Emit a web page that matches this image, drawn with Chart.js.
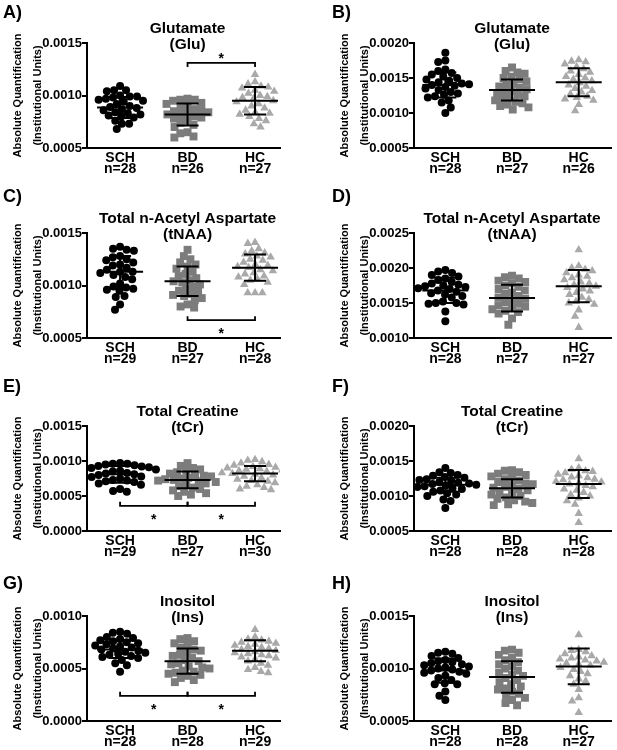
<!DOCTYPE html>
<html>
<head>
<meta charset="utf-8">
<script src="https://cdn.jsdelivr.net/npm/chart.js@4.4.1/dist/chart.umd.min.js"></script>
<style>
  html, body { margin: 0; padding: 0; background: #fff; }
  #fig { position: relative; width: 617px; height: 750px; overflow: hidden; font-family: "Liberation Sans", Arial, sans-serif; }
  .panel { position: absolute; }
  .letter { position: absolute; font-weight: bold; font-size: 18px; line-height: 18px; color: #000; }
</style>
</head>
<body>
<div id="fig"></div>
<script>
"use strict";

const groups = ['SCH', 'BD', 'HC'];

// A) Glutamate
const gluA_n = [28, 26, 27];
const gluA_SCH = [0.00109, 0.00105, 0.00105, 0.00104, 0.00100, 0.00099, 0.00099, 0.00098, 0.00097, 0.00096, 0.00095, 0.00094, 0.00092, 0.00090, 0.00089, 0.00088, 0.00087, 0.00086, 0.00084, 0.00083, 0.00082, 0.00081, 0.00080, 0.00079, 0.00076, 0.00073, 0.00073, 0.00068];
const gluA_BD = [0.00097, 0.00096, 0.00096, 0.00095, 0.00093, 0.00092, 0.00090, 0.00088, 0.00087, 0.00086, 0.00085, 0.00084, 0.00083, 0.00082, 0.00081, 0.00080, 0.00079, 0.00078, 0.00076, 0.00074, 0.00072, 0.00070, 0.00065, 0.00064, 0.00061, 0.00060];
const gluA_HC = [0.00120, 0.00113, 0.00111, 0.00109, 0.00108, 0.00107, 0.00105, 0.00104, 0.00102, 0.00100, 0.00099, 0.00098, 0.00097, 0.00095, 0.00094, 0.00092, 0.00090, 0.00088, 0.00086, 0.00084, 0.00083, 0.00082, 0.00080, 0.00078, 0.00076, 0.00073, 0.00070];
const gluA_mean = [0.000885, 0.00082, 0.00095];
const gluA_sd = [0.0001, 0.000105, 0.00013];
const gluA_sig = [{ from: 2, to: 3, y: 0.00131, dir: -1 }];

// B) Glutamate
const gluB_n = [28, 27, 26];
const gluB_SCH = [0.00186, 0.00175, 0.00173, 0.00162, 0.00160, 0.00157, 0.00155, 0.00152, 0.00150, 0.00148, 0.00146, 0.00144, 0.00142, 0.00141, 0.00140, 0.00139, 0.00137, 0.00135, 0.00133, 0.00130, 0.00128, 0.00126, 0.00124, 0.00122, 0.00118, 0.00115, 0.00108, 0.00100];
const gluB_BD = [0.00165, 0.00160, 0.00158, 0.00156, 0.00152, 0.00150, 0.00148, 0.00145, 0.00142, 0.00140, 0.00138, 0.00136, 0.00134, 0.00132, 0.00130, 0.00128, 0.00126, 0.00124, 0.00122, 0.00120, 0.00118, 0.00116, 0.00114, 0.00112, 0.00110, 0.00108, 0.00105];
const gluB_HC = [0.00176, 0.00174, 0.00173, 0.00170, 0.00166, 0.00163, 0.00160, 0.00158, 0.00155, 0.00152, 0.00150, 0.00148, 0.00146, 0.00143, 0.00140, 0.00138, 0.00135, 0.00132, 0.00130, 0.00127, 0.00124, 0.00122, 0.00120, 0.00118, 0.00112, 0.00103];
const gluB_mean = [0.00140, 0.00133, 0.00144];
const gluB_sd = [0.00018, 0.00015, 0.00020];

// C) tNAA
const naaC_n = [29, 27, 28];
const naaC_SCH = [0.00137, 0.00135, 0.00134, 0.00133, 0.00128, 0.00127, 0.00125, 0.00124, 0.00122, 0.00120, 0.00119, 0.00117, 0.00115, 0.00113, 0.00113, 0.00112, 0.00110, 0.00108, 0.00106, 0.00102, 0.00099, 0.00098, 0.00097, 0.00096, 0.00095, 0.00090, 0.00089, 0.00082, 0.00077];
const naaC_BD = [0.00134, 0.00128, 0.00125, 0.00122, 0.00120, 0.00118, 0.00116, 0.00113, 0.00111, 0.00109, 0.00107, 0.00105, 0.00104, 0.00103, 0.00101, 0.00099, 0.00097, 0.00095, 0.00094, 0.00092, 0.00091, 0.00090, 0.00088, 0.00086, 0.00082, 0.00080, 0.00079];
const naaC_HC = [0.00141, 0.00140, 0.00135, 0.00133, 0.00131, 0.00130, 0.00128, 0.00127, 0.00125, 0.00124, 0.00122, 0.00120, 0.00119, 0.00118, 0.00117, 0.00115, 0.00114, 0.00112, 0.00111, 0.00109, 0.00108, 0.00106, 0.00105, 0.00103, 0.00101, 0.00093, 0.00093, 0.00093];
const naaC_mean = [0.00113, 0.00104, 0.00117];
const naaC_sd = [0.00015, 0.00014, 0.000125];
const naaC_sig = [{ from: 2, to: 3, y: 0.00067, dir: 1 }];

// D) tNAA
const naaD_n = [28, 27, 27];
const naaD_SCH = [0.00197, 0.00195, 0.00193, 0.00190, 0.00188, 0.00185, 0.00183, 0.00180, 0.00178, 0.00176, 0.00175, 0.00174, 0.00173, 0.00171, 0.00170, 0.00168, 0.00166, 0.00164, 0.00162, 0.00160, 0.00158, 0.00152, 0.00150, 0.00150, 0.00149, 0.00148, 0.00138, 0.00124];
const naaD_BD = [0.00189, 0.00187, 0.00185, 0.00182, 0.00180, 0.00178, 0.00175, 0.00173, 0.00170, 0.00168, 0.00165, 0.00163, 0.00160, 0.00158, 0.00156, 0.00154, 0.00151, 0.00149, 0.00147, 0.00145, 0.00143, 0.00141, 0.00139, 0.00137, 0.00135, 0.00128, 0.00119];
const naaD_HC = [0.00226, 0.00203, 0.00200, 0.00198, 0.00196, 0.00193, 0.00190, 0.00188, 0.00186, 0.00183, 0.00180, 0.00178, 0.00176, 0.00174, 0.00172, 0.00170, 0.00167, 0.00165, 0.00162, 0.00158, 0.00155, 0.00152, 0.00150, 0.00148, 0.00140, 0.00131, 0.00115];
const naaD_mean = [0.00168, 0.00157, 0.00174];
const naaD_sd = [0.00018, 0.00019, 0.00023];

// E) tCr
const crE_n = [29, 27, 30];
const crE_SCH = [0.00097, 0.00096, 0.00096, 0.00095, 0.00094, 0.00093, 0.00092, 0.00091, 0.00090, 0.00089, 0.00088, 0.00086, 0.00085, 0.00083, 0.00082, 0.00081, 0.00080, 0.00078, 0.00077, 0.00075, 0.00073, 0.00072, 0.00071, 0.00070, 0.00068, 0.00066, 0.00060, 0.00057, 0.00056];
const crE_BD = [0.00097, 0.00093, 0.00090, 0.00088, 0.00086, 0.00084, 0.00082, 0.00080, 0.00079, 0.00078, 0.00076, 0.00075, 0.00074, 0.00073, 0.00072, 0.00071, 0.00070, 0.00068, 0.00066, 0.00064, 0.00062, 0.00060, 0.00058, 0.00056, 0.00054, 0.00052, 0.00050];
const crE_HC = [0.00102, 0.00101, 0.00099, 0.00097, 0.00095, 0.00094, 0.00092, 0.00091, 0.00090, 0.00089, 0.00088, 0.00087, 0.00086, 0.00085, 0.00083, 0.00082, 0.00081, 0.00080, 0.00079, 0.00078, 0.00076, 0.00074, 0.00072, 0.00071, 0.00069, 0.00066, 0.00064, 0.00062, 0.00060, 0.00059];
const crE_mean = [0.00081, 0.00073, 0.00082];
const crE_sd = [0.00012, 0.00012, 0.00011];
const crE_sig = [{ from: 1, to: 2, y: 0.00036, dir: 1 }, { from: 2, to: 3, y: 0.00036, dir: 1 }];

// F) tCr
const crF_n = [28, 28, 28];
const crF_SCH = [0.00140, 0.00134, 0.00133, 0.00130, 0.00129, 0.00127, 0.00126, 0.00124, 0.00123, 0.00122, 0.00120, 0.00119, 0.00118, 0.00117, 0.00116, 0.00115, 0.00114, 0.00113, 0.00111, 0.00110, 0.00108, 0.00106, 0.00104, 0.00102, 0.00100, 0.00095, 0.00093, 0.00083];
const crF_BD = [0.00137, 0.00136, 0.00134, 0.00132, 0.00130, 0.00128, 0.00126, 0.00124, 0.00122, 0.00120, 0.00118, 0.00117, 0.00115, 0.00113, 0.00112, 0.00110, 0.00108, 0.00106, 0.00104, 0.00102, 0.00100, 0.00098, 0.00096, 0.00094, 0.00092, 0.00090, 0.00088, 0.00087];
const crF_HC = [0.00153, 0.00140, 0.00138, 0.00136, 0.00135, 0.00133, 0.00131, 0.00129, 0.00127, 0.00126, 0.00124, 0.00123, 0.00121, 0.00120, 0.00118, 0.00117, 0.00115, 0.00113, 0.00110, 0.00108, 0.00105, 0.00102, 0.00100, 0.00097, 0.00093, 0.00088, 0.00075, 0.00062];
const crF_mean = [0.00116, 0.00111, 0.00117];
const crF_sd = [0.0001, 0.00013, 0.0002];

// G) Ins
const insG_n = [28, 28, 29];
const insG_SCH = [0.00085, 0.00084, 0.00083, 0.00080, 0.00079, 0.00078, 0.00077, 0.00076, 0.00075, 0.00074, 0.00073, 0.00072, 0.00071, 0.00070, 0.00069, 0.00068, 0.00067, 0.00066, 0.00065, 0.00064, 0.00063, 0.00062, 0.00061, 0.00060, 0.00058, 0.00055, 0.00053, 0.00047];
const insG_BD = [0.00079, 0.00078, 0.00076, 0.00074, 0.00072, 0.00070, 0.00068, 0.00067, 0.00065, 0.00063, 0.00062, 0.00060, 0.00058, 0.00057, 0.00055, 0.00054, 0.00052, 0.00051, 0.00050, 0.00048, 0.00047, 0.00046, 0.00045, 0.00044, 0.00043, 0.00041, 0.00039, 0.00037];
const insG_HC = [0.00087, 0.00080, 0.00078, 0.00077, 0.00076, 0.00075, 0.00074, 0.00073, 0.00072, 0.00071, 0.00070, 0.00069, 0.00068, 0.00067, 0.00066, 0.00065, 0.00064, 0.00063, 0.00062, 0.00061, 0.00060, 0.00059, 0.00057, 0.00055, 0.00053, 0.00051, 0.00049, 0.00047, 0.00046];
const insG_mean = [0.00068, 0.00057, 0.00067];
const insG_sd = [0.00008, 0.00012, 0.0001];
const insG_sig = [{ from: 1, to: 2, y: 0.00024, dir: 1 }, { from: 2, to: 3, y: 0.00024, dir: 1 }];

// H) Ins
const insH_n = [28, 28, 27];
const insH_SCH = [0.00116, 0.00115, 0.00114, 0.00112, 0.00110, 0.00108, 0.00107, 0.00106, 0.00105, 0.00104, 0.00103, 0.00102, 0.00101, 0.00100, 0.00099, 0.00098, 0.00097, 0.00096, 0.00095, 0.00093, 0.00091, 0.00089, 0.00086, 0.00085, 0.00085, 0.00078, 0.00074, 0.00070];
const insH_BD = [0.00118, 0.00117, 0.00115, 0.00113, 0.00110, 0.00108, 0.00106, 0.00104, 0.00102, 0.00100, 0.00098, 0.00096, 0.00094, 0.00093, 0.00091, 0.00089, 0.00087, 0.00085, 0.00083, 0.00081, 0.00080, 0.00078, 0.00076, 0.00074, 0.00072, 0.00070, 0.00067, 0.00065];
const insH_HC = [0.00132, 0.00118, 0.00117, 0.00116, 0.00114, 0.00112, 0.00111, 0.00110, 0.00109, 0.00108, 0.00107, 0.00106, 0.00105, 0.00104, 0.00103, 0.00101, 0.00099, 0.00097, 0.00095, 0.00093, 0.00090, 0.00088, 0.00085, 0.00080, 0.00072, 0.00069, 0.00058];
const insH_mean = [0.00098, 0.00092, 0.00102];
const insH_sd = [0.000115, 0.00015, 0.00017];

const yTitle = ['Absolute Quantification', '(Institutional Units)'];

const panels = [
  { letter: 'A', col: 0, row: 0, title: ['Glutamate', '(Glu)'], yRange: [0.0005, 0.0015], n: gluA_n, values: [gluA_SCH, gluA_BD, gluA_HC], mean: gluA_mean, sd: gluA_sd, sig: gluA_sig },
  { letter: 'B', col: 1, row: 0, title: ['Glutamate', '(Glu)'], yRange: [0.0005, 0.0020], n: gluB_n, values: [gluB_SCH, gluB_BD, gluB_HC], mean: gluB_mean, sd: gluB_sd, sig: [] },
  { letter: 'C', col: 0, row: 1, title: ['Total n-Acetyl Aspartate', '(tNAA)'], yRange: [0.0005, 0.0015], n: naaC_n, values: [naaC_SCH, naaC_BD, naaC_HC], mean: naaC_mean, sd: naaC_sd, sig: naaC_sig },
  { letter: 'D', col: 1, row: 1, title: ['Total n-Acetyl Aspartate', '(tNAA)'], yRange: [0.0010, 0.0025], n: naaD_n, values: [naaD_SCH, naaD_BD, naaD_HC], mean: naaD_mean, sd: naaD_sd, sig: [] },
  { letter: 'E', col: 0, row: 2, title: ['Total Creatine', '(tCr)'], yRange: [0.0000, 0.0015], n: crE_n, values: [crE_SCH, crE_BD, crE_HC], mean: crE_mean, sd: crE_sd, sig: crE_sig },
  { letter: 'F', col: 1, row: 2, title: ['Total Creatine', '(tCr)'], yRange: [0.0005, 0.0020], n: crF_n, values: [crF_SCH, crF_BD, crF_HC], mean: crF_mean, sd: crF_sd, sig: [] },
  { letter: 'G', col: 0, row: 3, title: ['Inositol', '(Ins)'], yRange: [0.0000, 0.0010], n: insG_n, values: [insG_SCH, insG_BD, insG_HC], mean: insG_mean, sd: insG_sd, sig: insG_sig },
  { letter: 'H', col: 1, row: 3, title: ['Inositol', '(Ins)'], yRange: [0.0005, 0.0015], n: insH_n, values: [insH_SCH, insH_BD, insH_HC], mean: insH_mean, sd: insH_sd, sig: [] }
];

// layout (pixels)
const colX = [0, 308];
const colW = [308, 309];
const rowY = [0, 190, 383, 573];
const xAxisH = 40;
const plotTop = 43, plotH = 105, yAxisW = 87;
const canvasH = plotTop + plotH + xAxisH;
const padLeft = [0, 19], padRight = [28, 5];
const xRange = [[0.51, 3.37], [0.53, 3.49]];
const letterX = [3, 332];
const letterTop = [3, 187, 377, 574];

const FONT = '"Liberation Sans", Arial, Helvetica, sans-serif';
Chart.defaults.font.family = FONT;
Chart.defaults.color = '#000';

const styles = [
  { pointStyle: 'circle', radius: 4, color: '#000000' },
  { pointStyle: 'rect', radius: 5.6, color: '#7c7c7c' },
  { pointStyle: 'triangle', radius: 4.9, color: '#a9a9a9' }
];

// simple beeswarm: place each point at the smallest horizontal offset that does not overlap
function swarm(values, pxPerX, pxPerY) {
  const D = 7.3;
  const placed = [];
  return values.map(v => {
    const py = v * pxPerY;
    const blocked = [];
    placed.forEach(p => {
      const dy = Math.abs(p.y - py);
      if (dy < D) {
        const w = Math.sqrt(D * D - dy * dy);
        blocked.push([p.x - w, p.x + w]);
      }
    });
    const cands = [0];
    blocked.forEach(b => cands.push(b[0], b[1]));
    cands.sort((a, b) => Math.abs(a) - Math.abs(b));
    const px = cands.find(c => blocked.every(b => c <= b[0] + 1e-6 || c >= b[1] - 1e-6));
    placed.push({ x: px, y: py });
    return px / pxPerX;
  });
}

function decor(p) {
  return {
    id: 'decor' + p.letter,
    afterDatasetsDraw(chart) {
      const { ctx, chartArea } = chart;
      const x = chart.scales.x, y = chart.scales.y;
      ctx.save();
      ctx.strokeStyle = '#000';
      ctx.lineWidth = 2;
      // mean +/- SD
      p.mean.forEach((m, i) => {
        const cx = x.getPixelForValue(i + 1);
        const ym = y.getPixelForValue(m);
        const yt = y.getPixelForValue(m + p.sd[i]);
        const yb = y.getPixelForValue(m - p.sd[i]);
        ctx.beginPath();
        ctx.moveTo(cx - 23, ym); ctx.lineTo(cx + 23, ym);
        ctx.moveTo(cx - 11, yt); ctx.lineTo(cx + 11, yt);
        ctx.moveTo(cx - 11, yb); ctx.lineTo(cx + 11, yb);
        ctx.moveTo(cx, yt); ctx.lineTo(cx, yb);
        ctx.stroke();
      });
      // significance brackets
      ctx.lineWidth = 1.8;
      ctx.fillStyle = '#000';
      ctx.font = 'bold 14px ' + FONT;
      ctx.textAlign = 'center';
      ctx.textBaseline = 'alphabetic';
      p.sig.forEach(s => {
        const x1 = x.getPixelForValue(s.from), x2 = x.getPixelForValue(s.to);
        const yy = y.getPixelForValue(s.y);
        const tick = s.dir > 0 ? -4 : 4;
        ctx.beginPath();
        ctx.moveTo(x1, yy + tick); ctx.lineTo(x1, yy); ctx.lineTo(x2, yy); ctx.lineTo(x2, yy + tick);
        ctx.stroke();
        const starY = s.dir > 0 ? yy + 10 : yy - 8;
        ctx.fillText('*', (x1 + x2) / 2, starY + 8);
      });
      // title
      ctx.font = 'bold 15.5px ' + FONT;
      ctx.textBaseline = 'middle';
      const tx = x.getPixelForValue(2);
      ctx.fillText(p.title[0], tx, chartArea.top - 14);
      ctx.fillText(p.title[1], tx, chartArea.top + 1.5);
      ctx.restore();
    },
    afterDraw(chart) {
      // category labels, two tight lines under each group
      const { ctx, chartArea } = chart;
      const x = chart.scales.x;
      ctx.save();
      ctx.fillStyle = '#000';
      ctx.font = 'bold 14px ' + FONT;
      ctx.textAlign = 'center';
      ctx.textBaseline = 'middle';
      groups.forEach((g, i) => {
        const cx = x.getPixelForValue(i + 1);
        ctx.fillText(g, cx, chartArea.bottom + 10);
        ctx.fillText('n=' + p.n[i], cx, chartArea.bottom + 21.5);
      });
      ctx.restore();
    }
  };
}

const fig = document.getElementById('fig');

panels.forEach(p => {
  const wrap = document.createElement('div');
  wrap.className = 'panel';
  wrap.style.left = colX[p.col] + 'px';
  wrap.style.top = rowY[p.row] + 'px';
  const cv = document.createElement('canvas');
  cv.width = colW[p.col];
  cv.height = canvasH;
  cv.style.width = colW[p.col] + 'px';
  cv.style.height = canvasH + 'px';
  wrap.appendChild(cv);
  fig.appendChild(wrap);

  const lab = document.createElement('div');
  lab.className = 'letter';
  lab.textContent = p.letter + ')';
  lab.style.left = letterX[p.col] + 'px';
  lab.style.top = letterTop[p.row] + 'px';
  fig.appendChild(lab);

  const xr = xRange[p.col];
  const plotW = colW[p.col] - padLeft[p.col] - padRight[p.col] - yAxisW;
  const pxPerX = plotW / (xr[1] - xr[0]);
  const pxPerY = plotH / (p.yRange[1] - p.yRange[0]);

  const datasets = groups.map((g, i) => {
    const offs = swarm(p.values[i], pxPerX, pxPerY);
    return {
      label: g,
      data: p.values[i].map((v, k) => ({ x: i + 1 + offs[k], y: v })),
      pointStyle: styles[i].pointStyle,
      pointRadius: styles[i].radius,
      backgroundColor: styles[i].color,
      borderColor: styles[i].color,
      borderWidth: 0
    };
  });

  new Chart(cv, {
    type: 'scatter',
    data: { datasets },
    options: {
      responsive: false,
      animation: false,
      layout: { padding: { top: plotTop, left: padLeft[p.col], right: padRight[p.col], bottom: 0 } },
      plugins: { legend: { display: false }, tooltip: { enabled: false } },
      scales: {
        x: {
          type: 'linear',
          min: xr[0],
          max: xr[1],
          afterBuildTicks: s => { s.ticks = [1, 2, 3].map(v => ({ value: v })); },
          afterFit: s => { s.height = xAxisH; },
          grid: { display: false },
          border: { display: true, color: '#000', width: 2 },
          ticks: { display: false }
        },
        y: {
          min: p.yRange[0],
          max: p.yRange[1],
          afterFit: s => { s.width = yAxisW; },
          grid: { display: true, drawOnChartArea: false, drawTicks: true, tickLength: 5, color: '#000', lineWidth: 2 },
          border: { display: true, color: '#000', width: 2 },
          ticks: {
            stepSize: 0.0005,
            padding: 0,
            color: '#000',
            font: { size: 13, weight: 'bold' },
            callback: v => v.toFixed(4)
          },
          title: {
            display: true,
            text: yTitle,
            color: '#000',
            padding: { top: 8, bottom: 0 },
            font: { size: 11, weight: 'bold', lineHeight: 1.8 }
          }
        }
      }
    },
    plugins: [decor(p)]
  });
});
</script>
</body>
</html>
